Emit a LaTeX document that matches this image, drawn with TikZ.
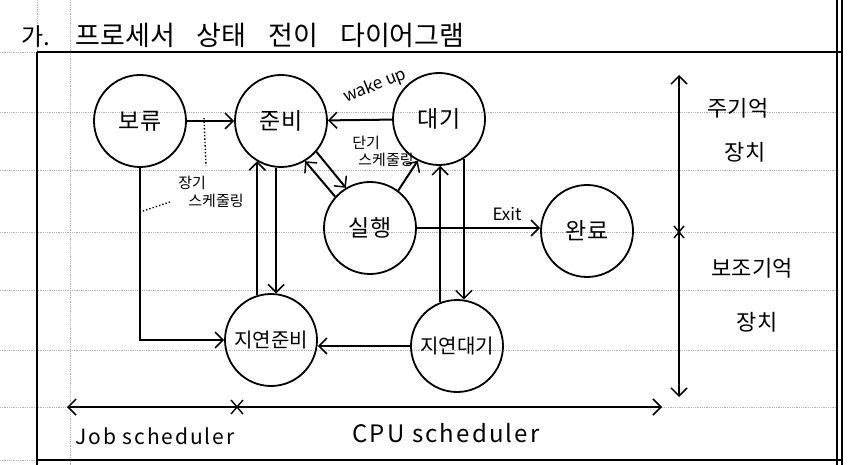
\documentclass[tikz,border=0pt]{standalone}
\usepackage{fontspec}
\newfontfamily\kr{Noto Sans CJK KR}
\newfontfamily\krw[LetterSpace=9]{Noto Sans CJK KR}
\usetikzlibrary{arrows.meta}
\begin{document}
\begin{tikzpicture}[x=1pt,y=-1pt,
  state/.style={circle,draw,line width=1.8pt,minimum size=92pt,inner sep=0pt,font=\kr\fontsize{23}{23}\selectfont},
  conn/.style={line width=2pt},
  tip/.tip={Straight Barb[length=8pt,width=16pt,line width=1.5pt]},
  arr/.style={conn,-tip},
  lbl/.style={inner sep=1pt},
  rule/.style={densely dotted,gray!60,line width=0.8pt},
  frame/.style={line width=1.8pt}
]
\useasboundingbox (0,0) rectangle (868,465);
% notebook rules
\foreach \yy in {112,170,232,290,350,407}
  \draw[rule] (0,\yy) -- (837,\yy);
\draw[rule] (0,52) -- (37,52);
\draw[rule] (0,460) -- (37,460);
\draw[rule] (70,0) -- (70,465);
\draw[rule] (37,0) -- (37,52);
% frame
\draw[line width=2.4pt] (37,52) -- (842,52);
\draw[frame] (37,52) -- (37,465);
\draw[frame] (37,460) -- (842,460);
\draw[frame] (837,0) -- (837,465);
\draw[frame] (842,0) -- (842,465);
% title
\node[font=\kr\fontsize{24}{24}\selectfont] (num) at (36,37) {가.};
\node[font=\kr\fontsize{27}{27}\selectfont,anchor=west] (title) at (72,35) {프로세서\hspace{22pt}상태\hspace{22pt}전이\hspace{22pt}다이어그램};
% states
\node[state] (B)  at (140,121) {보류};
\node[state] (J)  at (281,121) {준비};
\node[state] (D)  at (439,119) {대기};
\node[state] (S)  at (370,228) {실행};
\node[state] (W)  at (587,231) {완료};
\node[state,font=\kr\fontsize{20}{20}\selectfont] (JR) at (271,340) {지연준비};
\node[state,font=\kr\fontsize{20}{20}\selectfont] (JD) at (457,346) {지연대기};
% transitions
\draw[arr] (B.east) -- (J.west);
\draw[arr] (D) -- (J);
\draw[arr] (J.-41.5) -- (S.121);
\draw[arr] (S.138.5) -- (J.-59);
\draw[arr] (S.53) -- (D.243);
\draw[arr] (S.east) -- (S.east -| W.west);
\draw[arr] (JD.111.7) -- (JD.111.7 |- D.271);
\draw[arr] (D.-58.6) -- (D.-58.6 |- JD.82.5);
\draw[arr] (JR.107.7) -- (JR.107.7 |- J.-121.4);
\draw[arr] (J.-96.2) -- (J.-96.2 |- JR.83.8);
\draw[arr] (B.south) |- (JR.west);
\draw[arr] (JD.west) -- (JD.west -| JR.east);
% labels
\node[lbl,font=\kr\fontsize{17}{17}\selectfont,rotate=22] (wake) at (375,86) {wake up};
\node[lbl,align=left,font=\kr\fontsize{15}{17}\selectfont] (short) at (383,151) {단기\\\hspace{6pt}스케줄링};
\node[lbl,align=left,font=\kr\fontsize{15}{18}\selectfont] (long) at (211,192) {장기\\\hspace{10pt}스케줄링};
\node[lbl,font=\kr\fontsize{17}{17}\selectfont] (exit) at (507,214) {Exit};
\coordinate (d1) at (204,118);
\coordinate (d2) at (206,166);
\coordinate (d3) at (170,202);
\coordinate (d4) at (143,211);
\draw[dotted,line width=1.4pt] (d1) -- (d2);
\draw[dotted,line width=1.4pt] (d3) -- (d4);
% memory axis
\coordinate (mt) at (679,75);
\coordinate (mb) at (679,397);
\coordinate (mm) at (679,232);
\draw[conn,tip-tip] (mb) -- (mt);
\draw[line width=1.4pt] ([shift={(-5,-6)}]mm) -- ([shift={(5,6)}]mm);
\draw[line width=1.4pt] ([shift={(-5,6)}]mm) -- ([shift={(5,-6)}]mm);
\node[font=\kr\fontsize{22}{22}\selectfont] (m1) at (738,108) {주기억};
\node[font=\kr\fontsize{22}{22}\selectfont] (m2) at (745,152) {장치};
\node[font=\kr\fontsize{22}{22}\selectfont] (m3) at (752,268) {보조기억};
\node[font=\kr\fontsize{22}{22}\selectfont] (m4) at (757,322) {장치};
% scheduler axis
\coordinate (sl) at (67,407);
\coordinate (sr) at (662,407);
\coordinate (sm) at (237,407);
\draw[conn,tip-tip] (sl) -- (sr);
\draw[line width=1.4pt] ([shift={(-6,-7)}]sm) -- ([shift={(6,7)}]sm);
\draw[line width=1.4pt] ([shift={(-6,7)}]sm) -- ([shift={(6,-7)}]sm);
\node[font=\krw\fontsize{21}{21}\selectfont] (js) at (155,436) {Job scheduler};
\node[font=\krw\fontsize{24}{24}\selectfont] (cs) at (446,433) {CPU scheduler};
\end{tikzpicture}
\end{document}
